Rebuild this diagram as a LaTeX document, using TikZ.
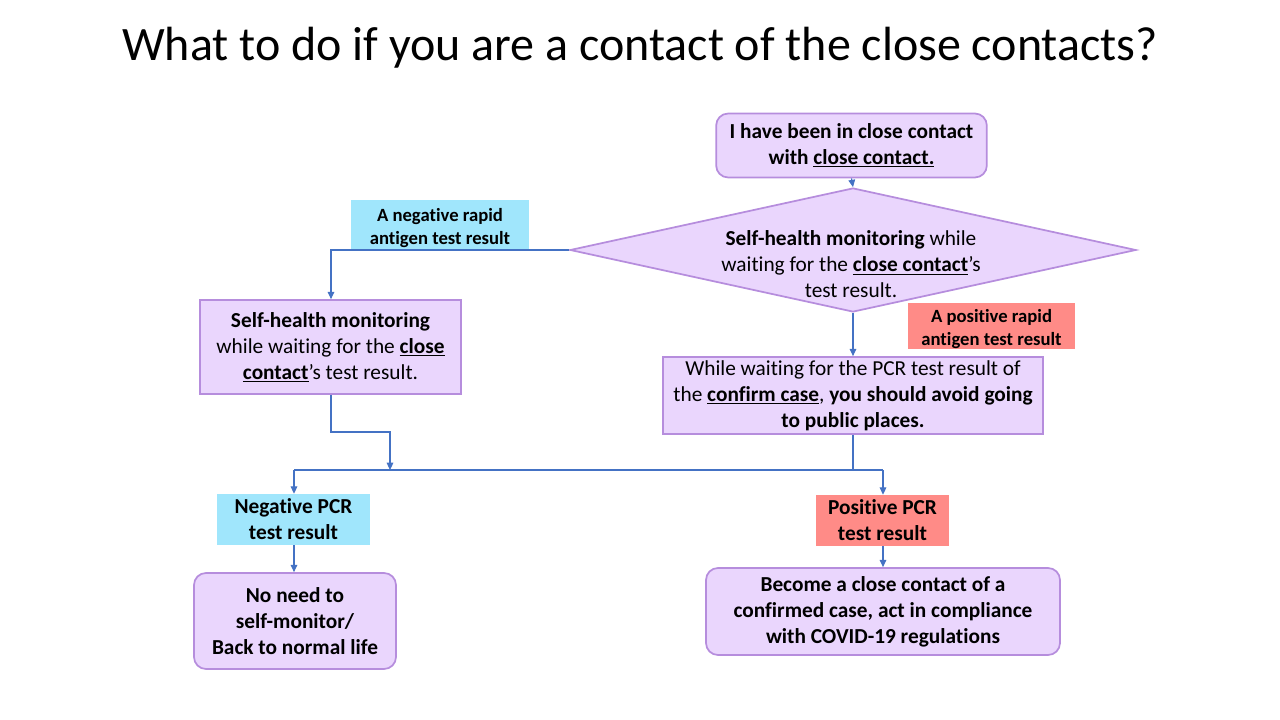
\documentclass[tikz,border=0pt]{standalone}
\usepackage{fontspec}
\setmainfont{Carlito}[Ligatures=NoCommon]
\usetikzlibrary{arrows.meta,shapes.geometric}
\definecolor{pfill}{HTML}{EAD6FD}
\definecolor{pdraw}{HTML}{B68DDD}
\definecolor{cfill}{HTML}{A0E6FC}
\definecolor{rfill}{HTML}{FF8B87}
\definecolor{conn}{HTML}{4472C4}
\tikzset{
  body/.style={font=\fontsize{16}{19.5}\selectfont, align=center, inner sep=0pt},
  pbox/.style={body, draw=pdraw, fill=pfill, line width=1.3pt},
  rbox/.style={pbox, rounded corners=9pt},
  lab/.style={font=\bfseries\fontsize{14}{17.25}\selectfont, align=center, inner sep=0pt},
  cyanlab/.style={fill=cfill},
  redlab/.style={fill=rfill},
  line/.style={draw=conn, line width=0.8pt},
  arr/.style={line, -{Triangle[length=5.5pt,width=5pt]}},
}
\begin{document}
\begin{tikzpicture}[x=0.75pt,y=-0.75pt]
\useasboundingbox (0,0) rectangle (1280,720);
\node[font=\fontsize{36}{43}\selectfont, inner sep=0pt] (title) at (640,48) {What to do if you are a contact of the close contacts?};

% boxes
\node[rbox, minimum width=203pt, minimum height=48pt, font=\bfseries\fontsize{16}{19.5}\selectfont] (top) at (851.5,145.5) {I have been in close contact\\ with \underline{close contact.}};
\node[diamond, draw=pdraw, fill=pfill, line width=1.3pt, minimum width=424.5pt, minimum height=93pt, inner sep=0pt] (dia) at (853,250) {};
\node[body] (diat) at (851,264.5) {\textbf{Self-health monitoring} while\\ waiting for the \textbf{\underline{close contact}}’s\\ test result.};
\node[pbox, minimum width=195.75pt, minimum height=70.5pt] (lbox) at (330.5,347) {\textbf{Self-health monitoring}\\ while waiting for the \textbf{\underline{close}}\\ \textbf{\underline{contact}}’s test result.};
\node[pbox, minimum width=285pt, minimum height=57.75pt] (rbx) at (853,395.5) {While waiting for the PCR test result of\\ the \textbf{\underline{confirm case}}, \textbf{you should avoid going}\\ \textbf{to public places.}};
\node[rbox, minimum width=151.5pt, minimum height=72pt, font=\bfseries\fontsize{16}{19.5}\selectfont] (nolife) at (295,621) {No need to\\ self-monitor/\\ Back to normal life};
\node[rbox, minimum width=265.5pt, minimum height=65.25pt, font=\bfseries\fontsize{16}{19.5}\selectfont] (covid) at (883,611.5) {Become a close contact of a\\ confirmed case, act in compliance\\ with COVID-19 regulations};

% labels
\node[lab, cyanlab, minimum width=133.5pt, minimum height=36.75pt] (neglab) at (440,224.5) {\rule{0pt}{15pt}A negative rapid\\ antigen test result};
\node[lab, redlab, minimum width=125.25pt, minimum height=33pt] (poslab) at (991.5,326) {\rule{0pt}{15pt}A positive rapid\\ antigen test result};
\node[lab, cyanlab, font=\bfseries\fontsize{16}{19.5}\selectfont, minimum width=114.75pt, minimum height=38.25pt] (negpcr) at (293.5,519.5) {Negative PCR\\ test result};
\node[lab, redlab, font=\bfseries\fontsize{16}{19.5}\selectfont, minimum width=99.75pt, minimum height=38.25pt] (pospcr) at (882.5,520.5) {Positive PCR\\ test result};

% connectors
\coordinate (lturn) at (331,250);
\coordinate (lmid) at (390,432);
\coordinate (jm) at (390,470);
\coordinate (jl) at (294,470);
\coordinate (jr) at (883,470);
\coordinate (jrb) at (853,470);

\draw[arr] (top.south) -- (dia.north);
\draw[arr] (dia.west) -- (lturn) -- (lbox.north -| lturn);
\draw[arr] (dia.south) -- (rbx.north -| dia.south);
\draw[arr] (lbox.south -| lturn) |- (lmid) -- (jm);
\draw[line] (rbx.south) -- (jrb);
\draw[line] (jl) -- (jr);
\draw[arr] (jl) -- (negpcr.north -| jl);
\draw[arr] (jr) -- (pospcr.north -| jr);
\draw[arr] (negpcr.south -| jl) -- (nolife.north -| jl);
\draw[arr] (pospcr.south -| jr) -- (covid.north -| jr);
\end{tikzpicture}
\end{document}
